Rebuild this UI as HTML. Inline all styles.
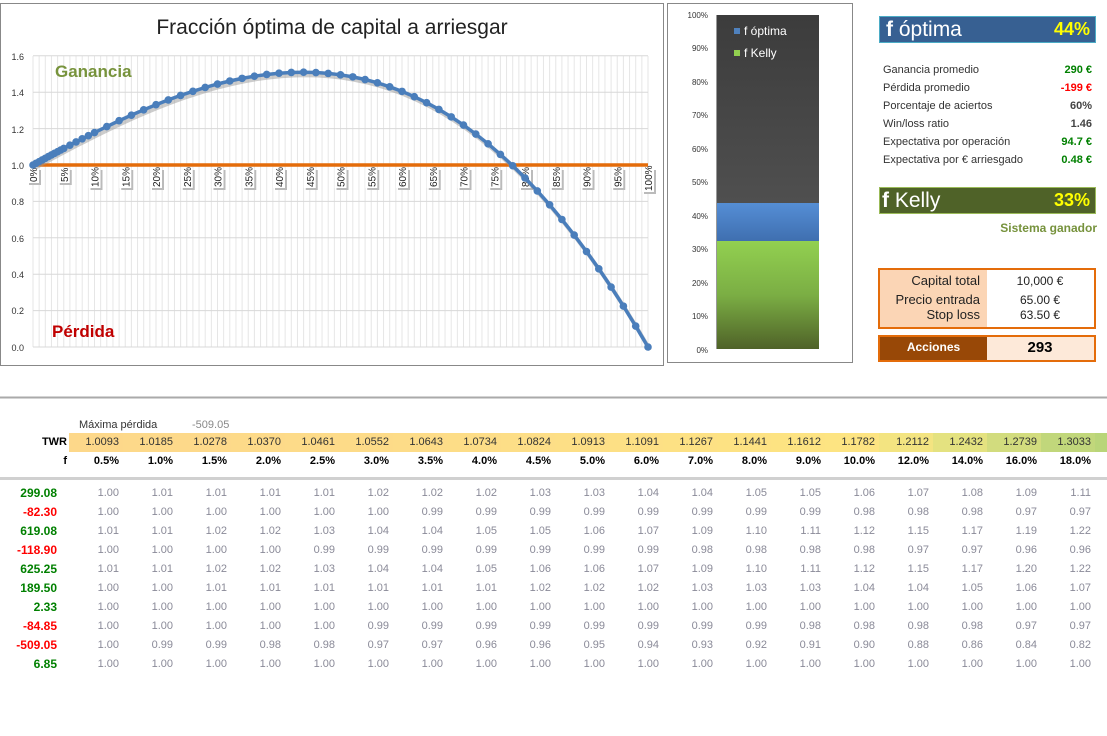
<!DOCTYPE html>
<html><head><meta charset="utf-8">
<style>
body{margin:0;width:1107px;height:736px;background:#fff;font-family:"Liberation Sans",sans-serif;position:relative;overflow:hidden}
.a{position:absolute;white-space:nowrap}
.st{font-size:11px;color:#333}
.sv{font-size:11px;font-weight:bold;text-align:right;width:60px}
.tw{position:absolute;top:433px;height:19px;width:54px;font-size:11px;color:#333;text-align:right;line-height:19px;box-sizing:border-box;padding-right:4px}
.fr{position:absolute;top:455px;width:54px;font-size:11px;font-weight:bold;text-align:right;padding-right:4px;box-sizing:border-box}
.row{position:absolute;left:0;height:19px;font-size:11px;line-height:19px}
.row span{position:absolute;width:54px;text-align:right;padding-right:4px;box-sizing:border-box;color:#8a8a98}
.row b{position:absolute;left:0;width:57px;text-align:right;font-size:12px}
</style></head><body>
<svg class="a" style="left:0;top:0" width="1107" height="400" id="svg">
<rect x="0.5" y="3.5" width="663" height="362" fill="#fff" stroke="#888"/>
<rect x="667.5" y="3.5" width="185" height="359" fill="#fff" stroke="#888"/>
<text x="332" y="34" font-size="21" text-anchor="middle" fill="#222" font-family="Liberation Sans">Fracción óptima de capital a arriesgar</text>
<g id="grid"></g>
<g font-size="9" fill="#333" text-anchor="end">
<text x="24" y="60">1.6</text><text x="24" y="96">1.4</text><text x="24" y="133">1.2</text><text x="24" y="169">1.0</text><text x="24" y="205">0.8</text><text x="24" y="242">0.6</text><text x="24" y="278">0.4</text><text x="24" y="314">0.2</text><text x="24" y="351">0.0</text>
</g>
<line x1="33" y1="165" x2="648" y2="165" stroke="#e46c0a" stroke-width="3.5"/>
<g id="xl" font-size="10" fill="#222"></g>
<g id="curve"></g>
<text x="55" y="77" font-size="17" font-weight="bold" fill="#77933c">Ganancia</text>
<text x="52" y="337" font-size="17" font-weight="bold" fill="#c00000">Pérdida</text>
<defs>
<linearGradient id="gd" x1="0" y1="0" x2="0" y2="1"><stop offset="0" stop-color="#3c3c3c"/><stop offset="1" stop-color="#5e5e5e"/></linearGradient>
<linearGradient id="gb" x1="0" y1="0" x2="0" y2="1"><stop offset="0" stop-color="#558ed5"/><stop offset="1" stop-color="#3f6fb0"/></linearGradient>
<linearGradient id="gg" x1="0" y1="0" x2="0" y2="1"><stop offset="0" stop-color="#92d050"/><stop offset="0.5" stop-color="#7bae44"/><stop offset="1" stop-color="#4f6228"/></linearGradient>
</defs>
<rect x="717" y="15" width="102" height="334" fill="url(#gd)"/>
<rect x="717" y="203" width="102" height="38" fill="url(#gb)"/>
<rect x="717" y="241" width="102" height="108" fill="url(#gg)"/>
<line x1="716.5" y1="15" x2="716.5" y2="349" stroke="#999"/>
<g font-size="8" fill="#333" text-anchor="end">
<text x="708" y="18">100%</text><text x="708" y="51">90%</text><text x="708" y="85">80%</text><text x="708" y="118">70%</text><text x="708" y="152">60%</text><text x="708" y="185">50%</text><text x="708" y="219">40%</text><text x="708" y="252">30%</text><text x="708" y="286">20%</text><text x="708" y="319">10%</text><text x="708" y="353">0%</text>
</g>
<rect x="734" y="28" width="6" height="6" fill="#4f81bd"/><text x="744" y="35" font-size="12" fill="#fff">f óptima</text>
<rect x="734" y="50" width="6" height="6" fill="#92d050"/><text x="744" y="57" font-size="12" fill="#fff">f Kelly</text>
<line x1="0" y1="397.5" x2="1107" y2="397.5" stroke="#aaa" stroke-width="2"/>
</svg>

<div class="a" style="left:879px;top:16px;width:217px;height:27px;background:#376092;border:1px solid #4bacc6;box-sizing:border-box"></div>
<div class="a" style="left:886px;top:16px;font-size:21px;color:#fff;line-height:27px"><b>f</b> óptima</div>
<div class="a" style="left:1040px;top:16px;width:50px;text-align:right;font-size:18px;font-weight:bold;color:#ffff00;line-height:27px">44%</div>
<div class="a st" style="left:883px;top:64px">Ganancia promedio</div><div class="a sv" style="left:1032px;top:64px;color:#008000">290 €</div>
<div class="a st" style="left:883px;top:82px">Pérdida promedio</div><div class="a sv" style="left:1032px;top:82px;color:#ff0000">-199 €</div>
<div class="a st" style="left:883px;top:100px">Porcentaje de aciertos</div><div class="a sv" style="left:1032px;top:100px;color:#444">60%</div>
<div class="a st" style="left:883px;top:118px">Win/loss ratio</div><div class="a sv" style="left:1032px;top:118px;color:#444">1.46</div>
<div class="a st" style="left:883px;top:136px">Expectativa por operación</div><div class="a sv" style="left:1032px;top:136px;color:#008000">94.7 €</div>
<div class="a st" style="left:883px;top:154px">Expectativa por € arriesgado</div><div class="a sv" style="left:1032px;top:154px;color:#008000">0.48 €</div>
<div class="a" style="left:879px;top:187px;width:217px;height:27px;background:#4f6228;border:1px solid #9bbb59;box-sizing:border-box"></div>
<div class="a" style="left:882px;top:187px;font-size:21px;color:#fff;line-height:27px"><b>f</b> Kelly</div>
<div class="a" style="left:1040px;top:187px;width:50px;text-align:right;font-size:18px;font-weight:bold;color:#ffff00;line-height:27px">33%</div>
<div class="a" style="left:960px;top:221px;width:137px;text-align:right;font-size:12px;font-weight:bold;color:#76923c">Sistema ganador</div>

<div class="a" style="left:878px;top:268px;width:218px;height:61px;border:2px solid #e46c0a;box-sizing:border-box;background:#fff"><div style="position:absolute;left:0;top:0;width:107px;height:57px;background:#fbd5b5"></div></div>
<div class="a" style="left:880px;top:273px;width:100px;text-align:right;font-size:13px;color:#222">Capital total</div>
<div class="a" style="left:990px;top:274px;width:100px;text-align:center;font-size:12px;color:#222">10,000 €</div>
<div class="a" style="left:880px;top:292px;width:100px;text-align:right;font-size:13px;color:#222">Precio entrada</div>
<div class="a" style="left:990px;top:293px;width:100px;text-align:center;font-size:12px;color:#222">65.00 €</div>
<div class="a" style="left:880px;top:307px;width:100px;text-align:right;font-size:13px;color:#222">Stop loss</div>
<div class="a" style="left:990px;top:308px;width:100px;text-align:center;font-size:12px;color:#222">63.50 €</div>
<div class="a" style="left:878px;top:335px;width:218px;height:27px;border:2px solid #e46c0a;box-sizing:border-box;background:#fde9d9"><div style="position:absolute;left:0;top:0;width:107px;height:23px;background:#984807"></div></div>
<div class="a" style="left:880px;top:340px;width:107px;text-align:center;font-size:12px;font-weight:bold;color:#fff">Acciones</div>
<div class="a" style="left:990px;top:339px;width:100px;text-align:center;font-size:15px;font-weight:bold;color:#000">293</div>

<div class="a" style="left:79px;top:419px;font-size:11px;color:#333">Máxima pérdida</div>
<div class="a" style="left:192px;top:419px;font-size:11px;color:#888">-509.05</div>
<div class="a" style="left:0;top:433px;width:67px;text-align:right;font-size:11px;font-weight:bold;line-height:19px">TWR</div>
<div class="a" style="left:0;top:455px;width:67px;text-align:right;font-size:11px;font-weight:bold">f</div>
<div class="a" style="left:1093px;top:433px;width:14px;height:19px;background:#b9d579"></div>
<div id="twr"></div>
<div class="a" style="left:0;top:477px;width:1107px;height:3px;background:#d0d0d0"></div>
<div id="rows"></div>

<script>
var trades=[299.08,-82.30,619.08,-118.90,625.25,189.50,2.33,-84.85,-509.05,6.85];
var NS="http://www.w3.org/2000/svg";
function el(t,a,p){var e=document.createElementNS(NS,t);for(var k in a)e.setAttribute(k,a[k]);p.appendChild(e);return e;}
var X=function(f){return 33+f*615;},Y=function(v){return 347-v*182;};
var g=document.getElementById('grid');
for(var i=0;i<=100;i++)el('line',{x1:X(i/100),y1:56,x2:X(i/100),y2:347,stroke:'#e6e6e6','stroke-width':1},g);
for(var j=0;j<=8;j++)el('line',{x1:33,y1:Y(j*0.2),x2:648,y2:Y(j*0.2),stroke:'#d8d8d8','stroke-width':1},g);
var fs=[];for(var f=0;f<=5;f+=0.5)fs.push(f);for(f=6;f<=10;f++)fs.push(f);for(f=12;f<=100;f+=2)fs.push(f);
function twr(f){var t=1;trades.forEach(function(x){t*=1+f*x/509.05});return t;}
var c=document.getElementById('curve'),pts=fs.map(function(f){return [X(f/100),Y(twr(f/100))]});
var d='M'+pts.map(function(p){return p[0].toFixed(1)+','+p[1].toFixed(1)}).join(' L');
el('path',{d:d,fill:'none',stroke:'#999',opacity:.5,'stroke-width':4,transform:'translate(2,3)'},c);
el('path',{d:d,fill:'none',stroke:'#4a7ebb','stroke-width':3.5},c);
pts.forEach(function(p){el('circle',{cx:p[0],cy:p[1],r:3.8,fill:'#4a7ebb'},c)});
var xl=document.getElementById('xl');
for(var p=0;p<=100;p+=5){var x=X(p/100);var w=p==100?24:(p<10?15:20);
el('rect',{x:x-6+2,y:168+2,width:12,height:w,fill:'#bbb'},xl);
el('rect',{x:x-6,y:168,width:12,height:w,fill:'#fff'},xl);
var t=el('text',{x:0,y:0,transform:'translate('+(x+4)+','+(168+w-1)+') rotate(-90)'},xl);t.textContent=p+'%';}
</script>
<script>
var fl=[0.5,1,1.5,2,2.5,3,3.5,4,4.5,5,6,7,8,9,10,12,14,16,18];
var tw=["1.0093","1.0185","1.0278","1.0370","1.0461","1.0552","1.0643","1.0734","1.0824","1.0913","1.1091","1.1267","1.1441","1.1612","1.1782","1.2112","1.2432","1.2739","1.3033"];
var cols=["#fdd88a","#fdd98a","#fdd98a","#fdda89","#fddb89","#fddb88","#fddc88","#fddd87","#fdde87","#fddf86","#fde085","#fde184","#fde283","#fde382","#fde482","#f3e481","#e4e280","#d2dc7e","#c1d77b"];
var data=[
"1.00 1.01 1.01 1.01 1.01 1.02 1.02 1.02 1.03 1.03 1.04 1.04 1.05 1.05 1.06 1.07 1.08 1.09 1.11",
"1.00 1.00 1.00 1.00 1.00 1.00 0.99 0.99 0.99 0.99 0.99 0.99 0.99 0.99 0.98 0.98 0.98 0.97 0.97",
"1.01 1.01 1.02 1.02 1.03 1.04 1.04 1.05 1.05 1.06 1.07 1.09 1.10 1.11 1.12 1.15 1.17 1.19 1.22",
"1.00 1.00 1.00 1.00 0.99 0.99 0.99 0.99 0.99 0.99 0.99 0.98 0.98 0.98 0.98 0.97 0.97 0.96 0.96",
"1.01 1.01 1.02 1.02 1.03 1.04 1.04 1.05 1.06 1.06 1.07 1.09 1.10 1.11 1.12 1.15 1.17 1.20 1.22",
"1.00 1.00 1.01 1.01 1.01 1.01 1.01 1.01 1.02 1.02 1.02 1.03 1.03 1.03 1.04 1.04 1.05 1.06 1.07",
"1.00 1.00 1.00 1.00 1.00 1.00 1.00 1.00 1.00 1.00 1.00 1.00 1.00 1.00 1.00 1.00 1.00 1.00 1.00",
"1.00 1.00 1.00 1.00 1.00 0.99 0.99 0.99 0.99 0.99 0.99 0.99 0.99 0.98 0.98 0.98 0.98 0.97 0.97",
"1.00 0.99 0.99 0.98 0.98 0.97 0.97 0.96 0.96 0.95 0.94 0.93 0.92 0.91 0.90 0.88 0.86 0.84 0.82",
"1.00 1.00 1.00 1.00 1.00 1.00 1.00 1.00 1.00 1.00 1.00 1.00 1.00 1.00 1.00 1.00 1.00 1.00 1.00"];
var labs=["299.08","-82.30","619.08","-118.90","625.25","189.50","2.33","-84.85","-509.05","6.85"];
var h='';
for(var i=0;i<19;i++){var l=69+54*i;
h+='<div class="tw" style="left:'+l+'px;background:'+cols[i]+'">'+tw[i]+'</div>';
h+='<div class="fr" style="left:'+l+'px">'+fl[i].toFixed(1)+'%</div>';}
document.getElementById('twr').innerHTML=h;
h='';
for(var r=0;r<10;r++){var v=data[r].split(' ');var neg=labs[r][0]=='-';
h+='<div class="row" style="top:'+(484+19*r)+'px;width:1107px"><b style="color:'+(neg?'#ff0000':'#008000')+'">'+labs[r]+'</b>';
for(i=0;i<19;i++)h+='<span style="left:'+(69+54*i)+'px">'+v[i]+'</span>';
h+='</div>';}
document.getElementById('rows').innerHTML=h;
</script>
</body></html>
